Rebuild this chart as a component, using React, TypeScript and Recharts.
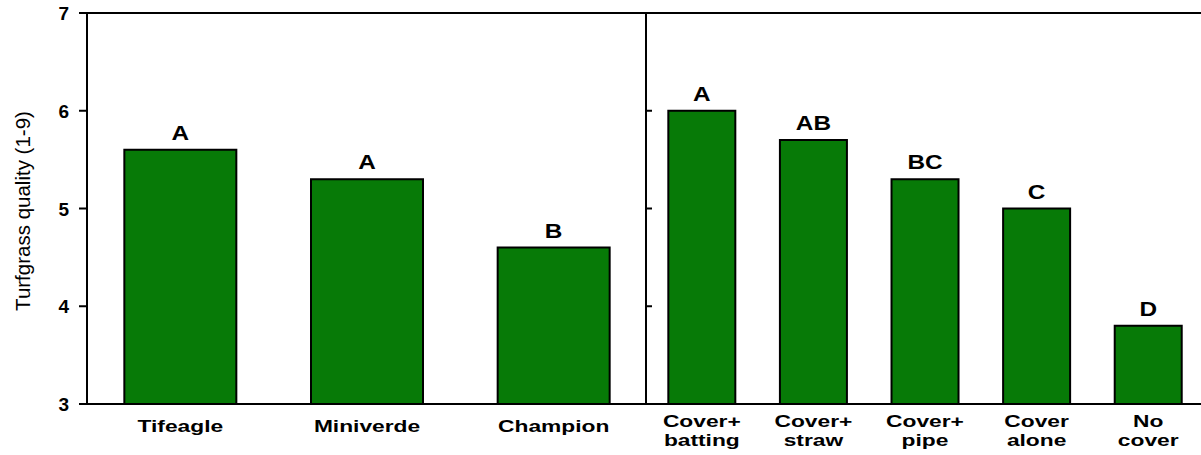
import React from "react";
import { BarChart, Bar, XAxis, YAxis, ReferenceLine, LabelList } from "recharts";

const varieties = ["Tifeagle", "Miniverde", "Champion"];
const varietyQuality = [5.6, 5.3, 4.6];
const varietyLetters = ["A", "A", "B"];

const covers = ["Cover+\nbatting", "Cover+\nstraw", "Cover+\npipe", "Cover\nalone", "No\ncover"];
const coverQuality = [6.0, 5.7, 5.3, 5.0, 3.8];
const coverLetters = ["A", "AB", "BC", "C", "D"];

const yTicks = [3, 4, 5, 6, 7];

const varietyData = varieties.map((name, i) => ({ name, quality: varietyQuality[i], letter: varietyLetters[i] }));
const coverData = covers.map((name, i) => ({ name, quality: coverQuality[i], letter: coverLetters[i] }));

const FONT = "'Liberation Sans', Arial, sans-serif";
const GREEN = "#077a07";

// category names are drawn wide, as in the original figure
const CategoryTick = (props: any) => {
  const { x, y, payload } = props;
  const lines: string[] = String(payload.value).split("\n");
  const first = lines.length > 1 ? 21 : 26;
  return (
    <g transform={`translate(${x},${y}) scale(1.38,1)`}>
      {lines.map((line, i) => (
        <text
          key={i}
          x={0}
          y={first + i * 19}
          textAnchor="middle"
          fontFamily={FONT}
          fontWeight="bold"
          fontSize={16.5}
          fill="#000"
        >
          {line}
        </text>
      ))}
    </g>
  );
};

const ValueTick = (props: any) => {
  const { x, y, payload } = props;
  return (
    <text x={x} y={y} dy={7} textAnchor="end" fontFamily={FONT} fontWeight="bold" fontSize={19} fill="#000">
      {payload.value}
    </text>
  );
};

const NoTick = () => <g />;

const LetterLabel = (props: any) => {
  const { x, y, width, value } = props;
  return (
    <g transform={`translate(${x + width / 2},${y - 10}) scale(1.25,1)`}>
      <text x={0} y={0} textAnchor="middle" fontFamily={FONT} fontWeight="bold" fontSize={19.5} fill="#000">
        {value}
      </text>
    </g>
  );
};

const YLabel = () => (
  <text
    transform="translate(30,211) rotate(-90)"
    textAnchor="middle"
    fontFamily={FONT}
    fontSize={20.5}
    fill="#000"
  >
    Turfgrass quality (1-9)
  </text>
);

export default function App() {
  return (
    <div style={{ position: "absolute", left: 0, top: 0, width: 1201, height: 455, overflow: "hidden", background: "#fff" }}>
      <div style={{ position: "absolute", left: 0, top: 0 }}>
        <BarChart width={647} height={455} data={varietyData} margin={{ top: 13, right: 0, left: 0, bottom: 0 }} barCategoryGap="20%">
          <XAxis
            dataKey="name"
            height={51}
            tickLine={false}
            tickSize={0}
            axisLine={{ stroke: "#000", strokeWidth: 2 }}
            tick={<CategoryTick />}
            interval={0}
          />
          <YAxis
            width={87}
            domain={[3, 7]}
            ticks={yTicks}
            tickSize={8}
            tickMargin={10}
            axisLine={{ stroke: "#000", strokeWidth: 2 }}
            tickLine={{ stroke: "#000", strokeWidth: 2 }}
            tick={<ValueTick />}
            label={<YLabel />}
            allowDataOverflow
          />
          <ReferenceLine y={7} stroke="#000" strokeWidth={2} />
          <Bar dataKey="quality" fill={GREEN} stroke="#000" strokeWidth={2} isAnimationActive={false}>
            <LabelList dataKey="letter" content={<LetterLabel />} />
          </Bar>
        </BarChart>
      </div>
      <div style={{ position: "absolute", left: 645, top: 0 }}>
        <BarChart width={559} height={455} data={coverData} margin={{ top: 13, right: 0, left: 1, bottom: 0 }} barCategoryGap="20%">
          <XAxis
            dataKey="name"
            height={51}
            tickLine={false}
            tickSize={0}
            axisLine={{ stroke: "#000", strokeWidth: 2 }}
            tick={<CategoryTick />}
            interval={0}
          />
          <YAxis
            mirror
            domain={[3, 7]}
            ticks={yTicks}
            tickSize={6}
            tick={<NoTick />}
            axisLine={{ stroke: "#000", strokeWidth: 2 }}
            tickLine={{ stroke: "#000", strokeWidth: 2 }}
            allowDataOverflow
          />
          <ReferenceLine y={7} stroke="#000" strokeWidth={2} />
          <Bar dataKey="quality" fill={GREEN} stroke="#000" strokeWidth={2} isAnimationActive={false}>
            <LabelList dataKey="letter" content={<LetterLabel />} />
          </Bar>
        </BarChart>
      </div>
    </div>
  );
}
